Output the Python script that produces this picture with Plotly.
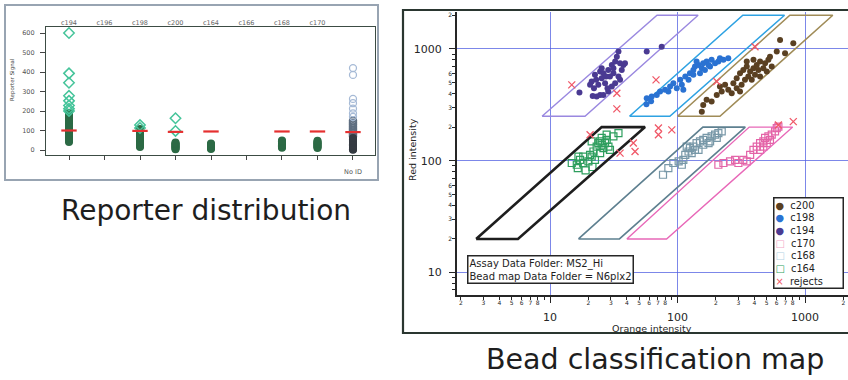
import plotly.graph_objects as go

W, H = 848, 380

# ---------------- Left panel: reporter distribution ----------------
categories = ['c194', 'c196', 'c198', 'c200', 'c164', 'c166', 'c168', 'c170', 'No ID']
filled_c194 = [41, 47, 52, 58, 63, 67, 74, 79, 85, 88, 94, 101, 106, 112, 117, 123, 126, 134, 139, 145, 151, 155, 162, 168, 171, 179, 185, 191]
filled_c198 = [16, 21, 27, 30, 36, 41, 45, 52, 57, 61, 66, 72, 78, 83, 88, 95, 101, 108]
filled_c200 = [4, 8, 12, 15, 19, 23, 27, 31, 35, 39]
filled_c164 = [5, 9, 13, 17, 21, 25, 29, 33]
filled_c168 = [11, 15, 19, 24, 28, 32, 36, 41, 45, 49]
filled_c170 = [10, 14, 18, 23, 27, 31, 35, 39, 44, 48]
filled_noid = [1, 4, 8, 12, 16, 20, 25, 30, 36, 42, 48, 55, 62]
mid_noid = [70, 78, 86, 95, 104, 113, 122, 131, 140, 150]
outlier_c194 = [600, 393, 345, 278, 252, 228, 212, 200]
outlier_c198 = [128, 113]
outlier_c200 = [163, 98]
outlier_noid = [420, 385, 262, 240, 212, 188, 170]
median_vals = [100, None, 98, 93, 95, None, 95, 95, 92]
signal_ticks = [0, 100, 200, 300, 400, 500, 600]

# ---------------- Right panel: bead classification map ----------------
c194_x = [17.0, 21.6, 24.7, 22.1, 23.9, 21.2, 23.0, 25.4, 27.0, 28.2, 24.7, 26.2, 28.6, 29.5, 31.4, 30.5, 32.4, 33.4, 34.4, 35.4, 37.6, 38.7, 36.5, 34.4, 35.4, 32.4, 30.5, 28.6, 26.2, 23.2, 20.6, 27.5, 25.4, 57.3, 75.1, 22.5, 31.4]
c194_y = [407, 380, 388, 446, 477, 511, 529, 547, 494, 446, 627, 607, 649, 566, 607, 719, 771, 853, 946, 745, 719, 745, 649, 566, 529, 494, 461, 416, 388, 375, 477, 566, 672, 946, 1047, 587, 672]
c198_x = [57.3, 62.7, 68.7, 72.9, 79.8, 87.4, 92.7, 98.6, 108, 105, 115, 125, 133, 137, 146, 155, 159, 169, 180, 185, 197, 209, 215, 229, 250, 150, 164, 175, 141, 133, 122, 84.7, 111, 57, 62]
c198_y = [363, 375, 388, 416, 431, 461, 494, 446, 477, 529, 566, 607, 649, 695, 719, 672, 745, 771, 695, 798, 745, 771, 826, 798, 826, 607, 649, 719, 771, 587, 529, 416, 431, 320, 340]
c200_x = [155, 159, 169, 185, 203, 222, 215, 236, 250, 274, 291, 309, 328, 349, 371, 394, 418, 444, 486, 516, 548, 318, 338, 359, 382, 405, 431, 471, 501, 291, 309, 349, 394, 600, 637, 697, 809, 266, 444, 531]
c200_y = [275, 316, 351, 339, 388, 416, 461, 477, 431, 494, 547, 607, 649, 695, 627, 672, 719, 771, 745, 798, 695, 477, 529, 566, 529, 587, 649, 672, 627, 446, 416, 771, 798, 946, 1203, 916, 1122, 402, 566, 853]
c164_x = [14.8, 16.2, 17.2, 18.2, 20.0, 21.2, 21.9, 23.2, 23.9, 24.7, 25.4, 26.2, 27.0, 27.8, 28.7, 29.5, 24.7, 22.5, 20.6, 31.4, 34.4, 27.8, 25.4, 18.2, 16.7, 21.2, 16.5, 19.0, 21.5]
c164_y = [95.5, 92.1, 102, 95.5, 98.7, 109, 121, 134, 144, 149, 139, 130, 144, 154, 134, 125, 117, 102, 113, 165, 177, 171, 160, 109, 109, 149, 86, 82, 88]
c168_x = [92.7, 102, 111, 115, 122, 125, 133, 141, 146, 150, 159, 169, 175, 185, 197, 209, 222, 118, 129, 137, 159, 180, 203, 108, 84.7, 76.9]
c168_y = [95.5, 98.7, 102, 113, 121, 130, 134, 144, 125, 149, 154, 160, 144, 165, 171, 177, 183, 134, 117, 125, 139, 149, 160, 92.1, 86.1, 75]
c170_x = [209, 229, 258, 283, 300, 328, 371, 394, 418, 444, 471, 486, 516, 548, 582, 618, 444, 501, 531, 600, 349, 471]
c170_y = [92.1, 95.5, 98.7, 102, 95.5, 102, 113, 125, 134, 144, 149, 160, 165, 171, 183, 202, 125, 144, 154, 196, 98.7, 134]
rej_x = [14.8, 33.4, 33.4, 67.8, 405, 203, 20.6, 45, 46.4, 35.4, 70.8, 70.8, 90.1, 809, 618]
rej_y = [477, 402, 291, 529, 1047, 511, 171, 144, 121, 117, 196, 171, 189, 224, 209]

# Gate polygons (vertices in data units)
gate_c194_x = [8.65, 18.8, 145, 69, 8.65]
gate_c194_y = [250, 250, 2000, 2000, 250]
gate_c198_x = [42, 87, 690, 325, 42]
gate_c198_y = [250, 250, 2000, 2000, 250]
gate_c200_x = [100, 215, 1650, 760, 100]
gate_c200_y = [250, 250, 2000, 2000, 250]
gate_c164_x = [2.63, 5.6, 55.6, 25.4, 2.63]
gate_c164_y = [20, 20, 200, 200, 20]
gate_c168_x = [16.7, 35, 340, 158, 16.7]
gate_c168_y = [20, 20, 200, 200, 20]
gate_c170_x = [40, 82, 800, 365, 40]
gate_c170_y = [20, 20, 200, 200, 20]

legend_names = ['c200', 'c198', 'c194', 'c170', 'c168', 'c164', 'rejects']

# ---------------- colours / styles ----------------
COL_C194 = '#4a3a92'
COL_C198 = '#2a72d2'
COL_C200 = '#5a4022'
COL_C164 = '#2e9e5e'
COL_C168 = '#7898a8'
COL_C170 = '#e464a8'
COL_REJ = '#f05868'
GRID = 'rgba(80,95,225,0.75)'

fig = go.Figure()

# ---- left panel traces ----
filled_by_cat = [filled_c194, [], filled_c198, filled_c200, filled_c164, [], filled_c168, filled_c170]
fig.add_trace(go.Scatter(
    x=[i for i, vals in enumerate(filled_by_cat) for _ in vals],
    y=[v for vals in filled_by_cat for v in vals],
    mode='markers', xaxis='x', yaxis='y',
    marker=dict(symbol='circle', size=8, color='#2c6a45', line=dict(width=0))))
noid_i = categories.index('No ID')
fig.add_trace(go.Scatter(
    x=[noid_i] * len(mid_noid), y=mid_noid, mode='markers', xaxis='x', yaxis='y',
    marker=dict(symbol='circle-open', size=7, color='#5e6e80', line=dict(width=1.5))))
fig.add_trace(go.Scatter(
    x=[noid_i] * len(filled_noid), y=filled_noid, mode='markers', xaxis='x', yaxis='y',
    marker=dict(symbol='circle', size=8, color='#353b42')))
fig.add_trace(go.Scatter(
    x=[noid_i] * len(outlier_noid), y=outlier_noid, mode='markers', xaxis='x', yaxis='y',
    marker=dict(symbol='circle-open', size=7, color='#a6bad6', line=dict(width=1.3))))
outliers_by_cat = [outlier_c194, [], outlier_c198, outlier_c200]
fig.add_trace(go.Scatter(
    x=[i for i, vals in enumerate(outliers_by_cat) for _ in vals],
    y=[v for vals in outliers_by_cat for v in vals],
    mode='markers', xaxis='x', yaxis='y',
    marker=dict(symbol='diamond-open', size=8, color='#45c49a', line=dict(width=1.5))))
# medians on the overlaid top category axis (same range as x)
fig.add_trace(go.Scatter(
    x=[i for i, v in enumerate(median_vals) if v is not None],
    y=[v for v in median_vals if v is not None],
    mode='markers', xaxis='x3', yaxis='y',
    marker=dict(symbol='line-ew', size=11, color='#e53030', line=dict(width=2.2, color='#e53030'))))

# ---- right panel traces ----
gates = [
    (gate_c194_x, gate_c194_y, '#9a88e0', 1.4, 'x2', 'y2'),
    (gate_c198_x, gate_c198_y, '#2ea2e2', 1.6, 'x2', 'y2'),
    (gate_c200_x, gate_c200_y, '#a08c58', 1.6, 'x2', 'y2'),
    (gate_c164_x, gate_c164_y, '#1e1e1e', 2.6, 'x2', 'y4'),
    (gate_c168_x, gate_c168_y, '#5e8090', 1.6, 'x2', 'y4'),
    (gate_c170_x, gate_c170_y, '#e868b8', 1.4, 'x2', 'y4'),
]
for gx, gy, col, lw, xa, ya in gates:
    fig.add_trace(go.Scatter(x=gx, y=gy, mode='lines', xaxis=xa, yaxis=ya,
                             line=dict(color=col, width=lw)))

def filled(xs, ys, col):
    fig.add_trace(go.Scatter(x=xs, y=ys, mode='markers', xaxis='x2', yaxis='y2',
                             marker=dict(symbol='circle', size=6, color=col)))

def opensq(xs, ys, col):
    fig.add_trace(go.Scatter(x=xs, y=ys, mode='markers', xaxis='x2', yaxis='y2',
                             marker=dict(symbol='square-open', size=7, color=col, line=dict(width=1.2))))

filled(c194_x, c194_y, COL_C194)
filled(c198_x, c198_y, COL_C198)
filled(c200_x, c200_y, COL_C200)
opensq(c164_x, c164_y, COL_C164)
opensq(c168_x, c168_y, COL_C168)
opensq(c170_x, c170_y, COL_C170)
fig.add_trace(go.Scatter(x=rej_x, y=rej_y, mode='markers', xaxis='x4', yaxis='y2',
                         marker=dict(symbol='x-thin-open', size=7, color=COL_REJ,
                                     line=dict(width=1.3, color=COL_REJ))))

# ---------------- axes ----------------
def fx(p):
    return p / W

def fy(p):
    return 1 - p / H

left_tick = dict(family='DejaVu Sans', size=6.5, color='#555')
dark = '#262626'

x_range_log = [0.27, 3.337]
y_range_log = [0.80, 3.33]
decades = [10, 100, 1000]
x_minor = [d * m for d in [1, 10, 100, 1000] for m in range(2, 10) if d * m <= 2100]
y_minor = [d * m for d in [1, 10, 100, 1000] for m in range(2, 10) if 6 <= d * m <= 2100]
x_digits = [d * m for d in [1, 10, 100] for m in range(2, 9)] + [2000]
y_digits = [d * m for d in [10, 100] for m in range(2, 7)] + [2000]

fig.update_layout(
    width=W, height=H, autosize=False,
    margin=dict(l=0, r=0, t=0, b=0),
    paper_bgcolor='white', plot_bgcolor='white',
    showlegend=False,
    font=dict(family='DejaVu Sans', color='#222'),
    # left panel
    xaxis=dict(domain=[fx(46), fx(375)], anchor='y', range=[-0.648, 8.62],
               tickvals=list(range(len(categories))),
               ticktext=['' if c != 'No ID' else 'No ID' for c in categories],
               ticks='outside', ticklen=4, tickcolor='#444', tickfont=left_tick,
               ticklabelstandoff=6,
               showline=True, mirror=True, linecolor='#3c4c44', linewidth=1.2,
               showgrid=False, zeroline=False, fixedrange=True),
    xaxis3=dict(overlaying='x', anchor='y', side='top', range=[-0.648, 8.62],
                tickvals=list(range(len(categories) - 1)), ticktext=categories[:-1],
                ticks='', tickfont=dict(family='DejaVu Sans', size=6.5, color='#666'),
                showline=False, showgrid=False, zeroline=False, fixedrange=True),
    yaxis=dict(domain=[fy(155), fy(27)], anchor='x', range=[-25.6, 630.8],
               tickvals=signal_ticks, ticks='outside', ticklen=5, tickcolor='#444',
               tickfont=left_tick, ticklabelstandoff=4,
               showline=True, mirror=True, linecolor='#3c4c44', linewidth=1.2,
               showgrid=False, zeroline=False, fixedrange=True),
    # right panel
    xaxis2=dict(domain=[fx(457), 1.0], anchor='y2', type='log', range=x_range_log,
                tickvals=decades, ticktext=[str(d) for d in decades],
                ticks='outside', ticklen=6, tickcolor=dark, tickwidth=1.2,
                tickfont=dict(family='DejaVu Sans', size=11, color=dark),
                ticklabelstandoff=5,
                minor=dict(tickvals=x_minor, ticks='outside', ticklen=3, tickcolor=dark, showgrid=False),
                showgrid=True, gridcolor=GRID, gridwidth=1,
                showline=True, linecolor=dark, linewidth=2, zeroline=False, fixedrange=True),
    xaxis4=dict(overlaying='x2', anchor='y2', side='bottom', type='log', range=x_range_log,
                tickvals=x_digits, ticktext=[str(v)[0] for v in x_digits],
                ticks='', tickfont=dict(family='DejaVu Sans', size=6, color=dark),
                ticklabelstandoff=3,
                showline=False, showgrid=False, zeroline=False, fixedrange=True),
    yaxis2=dict(domain=[fy(295), fy(12)], anchor='x2', type='log', range=y_range_log,
                tickvals=decades, ticktext=[str(d) for d in decades],
                ticks='outside', ticklen=6, tickcolor=dark, tickwidth=1.2,
                tickfont=dict(family='DejaVu Sans', size=11, color=dark),
                ticklabelstandoff=5,
                minor=dict(tickvals=y_minor, ticks='outside', ticklen=3, tickcolor=dark, showgrid=False),
                showgrid=True, gridcolor=GRID, gridwidth=1,
                showline=True, linecolor=dark, linewidth=2, zeroline=False, fixedrange=True),
    yaxis4=dict(overlaying='y2', anchor='x2', side='left', type='log', range=y_range_log,
                tickvals=y_digits, ticktext=[str(v)[0] for v in y_digits],
                ticks='', tickfont=dict(family='DejaVu Sans', size=6, color=dark),
                ticklabelstandoff=4,
                showline=False, showgrid=False, zeroline=False, fixedrange=True),
)

# ---------------- frames ----------------
fig.add_shape(type='rect', xref='paper', yref='paper',
              x0=fx(5), x1=fx(378), y0=fy(180), y1=fy(5),
              line=dict(color='#98a4b2', width=2))
fig.add_shape(type='rect', xref='paper', yref='paper',
              x0=fx(403), x1=fx(860), y0=fy(333), y1=fy(10),
              line=dict(color='#2a3630', width=2.2))

# ---------------- text ----------------
legend_syms = ['●', '●', '●', '□', '□', '□', '×']
legend_cols = [COL_C200, COL_C198, COL_C194, '#f2a6c8', '#b4d2e4', COL_C164, COL_REJ]
legend_text = '<br>'.join(
    f"<span style='color:{c}'>{s}</span>\u00a0\u00a0{n}"
    for s, c, n in zip(legend_syms, legend_cols, legend_names))

annos = [
    dict(text='Reporter distribution', x=fx(206), y=fy(210), xref='paper', yref='paper',
         showarrow=False, font=dict(family='DejaVu Sans', size=28, color='#1e1e1e'),
         xanchor='center', yanchor='middle'),
    dict(text='Bead classification map', x=fx(655), y=fy(359), xref='paper', yref='paper',
         showarrow=False, font=dict(family='DejaVu Sans', size=28.5, color='#1e1e1e'),
         xanchor='center', yanchor='middle'),
    dict(text='Reporter Signal', x=fx(12), y=fy(80), xref='paper', yref='paper',
         showarrow=False, textangle=-90, font=dict(size=5.5, color='#444'),
         xanchor='center', yanchor='middle'),
    dict(text='Orange intensity', x=fx(652), y=fy(328), xref='paper', yref='paper',
         showarrow=False, font=dict(size=9.5, color=dark), xanchor='center', yanchor='middle'),
    dict(text='Red intensity', x=fx(412), y=fy(150), xref='paper', yref='paper',
         showarrow=False, textangle=-90, font=dict(size=9.5, color=dark),
         xanchor='center', yanchor='middle'),
    dict(text='Assay Data Folder: MS2_Hi<br>Bead map Data Folder = N6plx2',
         x=fx(467), y=fy(255), xref='paper', yref='paper', showarrow=False,
         xanchor='left', yanchor='top', align='left',
         font=dict(size=10, color='#1e1e1e'), bgcolor='white',
         bordercolor='#262626', borderwidth=1.5, borderpad=1),
    dict(text=legend_text, x=fx(773), y=fy(197), xref='paper', yref='paper', showarrow=False,
         xanchor='left', yanchor='top', align='left', width=66,
         font=dict(size=9.8, color='#1e1e1e'), bgcolor='white',
         bordercolor='#262626', borderwidth=1.5, borderpad=1),
]
fig.update_layout(annotations=annos)

fig.write_html('out.html', config={'displayModeBar': False},
               post_script="document.body.style.margin='0';document.body.style.overflow='hidden';")
